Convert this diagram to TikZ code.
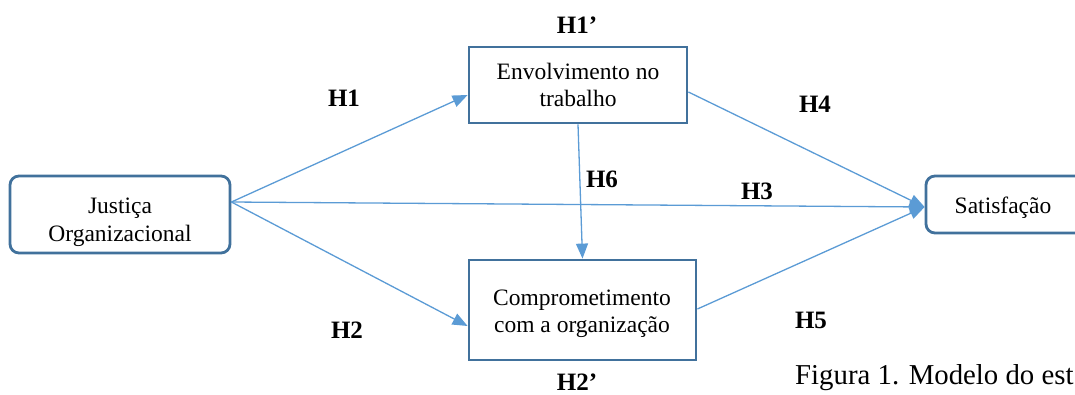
\documentclass[tikz,border=0pt]{standalone}
\usepackage{fontspec}
\setmainfont{Liberation Serif}
\usetikzlibrary{arrows.meta,calc}
\definecolor{boxc}{HTML}{41719C}
\definecolor{linec}{HTML}{5B9BD5}
\tikzset{
  box/.style={draw=boxc, line width=2.8pt, fill=none, inner sep=0pt},
  rbox/.style={box, rounded corners=9pt},
  txt/.style={font=\fontsize{23.5}{27}\selectfont, align=center, inner sep=0pt},
  hyp/.style={font=\fontsize{25}{27}\selectfont\bfseries, inner sep=0pt},
  conn/.style={draw=linec, line width=1.3pt, -{Triangle[length=15pt,width=12pt]}},
  capt/.style={font=\fontsize{28.8}{31}\selectfont, inner sep=0pt, anchor=base west},
}
\begin{document}
\begin{tikzpicture}[x=1pt,y=-1pt]
\useasboundingbox (0,0) rectangle (1075,394);
% boxes
\node[rbox, minimum width=220pt, minimum height=77pt] (jo) at (120,214.5) {};
\node[box, minimum width=218pt, minimum height=76pt] (en) at (578,85) {};
\node[box, minimum width=227pt, minimum height=100pt] (co) at (582.5,310) {};
\node[rbox, minimum width=160pt, minimum height=57pt] (sa) at (1006,204.5) {};
% texts
\node[txt, anchor=base] (jo1) at (120,213) {Justiça};
\node[txt, anchor=base] (jo2) at (120,241) {Organizacional};
\node[txt, anchor=base] (en1) at (578,79) {Envolvimento no};
\node[txt, anchor=base] (en2) at (578,106) {trabalho};
\node[txt, anchor=base] (co1) at (582,305) {Comprometimento};
\node[txt, anchor=base] (co2) at (582,332) {com a organização};
\node[txt, anchor=base] (sa1) at (1003,213) {Satisfação};
% connectors
\draw[conn] ($(jo.east)+(0,-12.5)$) -- ($(en.west)+(0,10)$);
\draw[conn] ($(jo.east)+(0,-12.5)$) -- ($(co.west)+(0,16)$);
\draw[conn] ($(jo.east)+(0,-12.5)$) -- ($(sa.west)+(0,2.5)$);
\draw[conn] ($(en.east)+(0,7)$) -- ($(sa.west)+(0,2.5)$);
\draw[conn] ($(co.east)+(0,-1)$) -- ($(sa.west)+(0,2.5)$);
\draw[conn] (en.south) -- (co.north);
% labels
\node[hyp] (h1) at (344,98) {H1};
\node[hyp] (h2) at (347,330) {H2};
\node[hyp] (h1p) at (577,25) {H1’};
\node[hyp] (h2p) at (577,382) {H2’};
\node[hyp] (h3) at (757,191) {H3};
\node[hyp] (h4) at (815,104) {H4};
\node[hyp] (h5) at (811,320) {H5};
\node[hyp] (h6) at (602,179) {H6};
\node[capt] (cap) at (795,384) {Figura 1. Modelo do est};
\end{tikzpicture}
\end{document}
